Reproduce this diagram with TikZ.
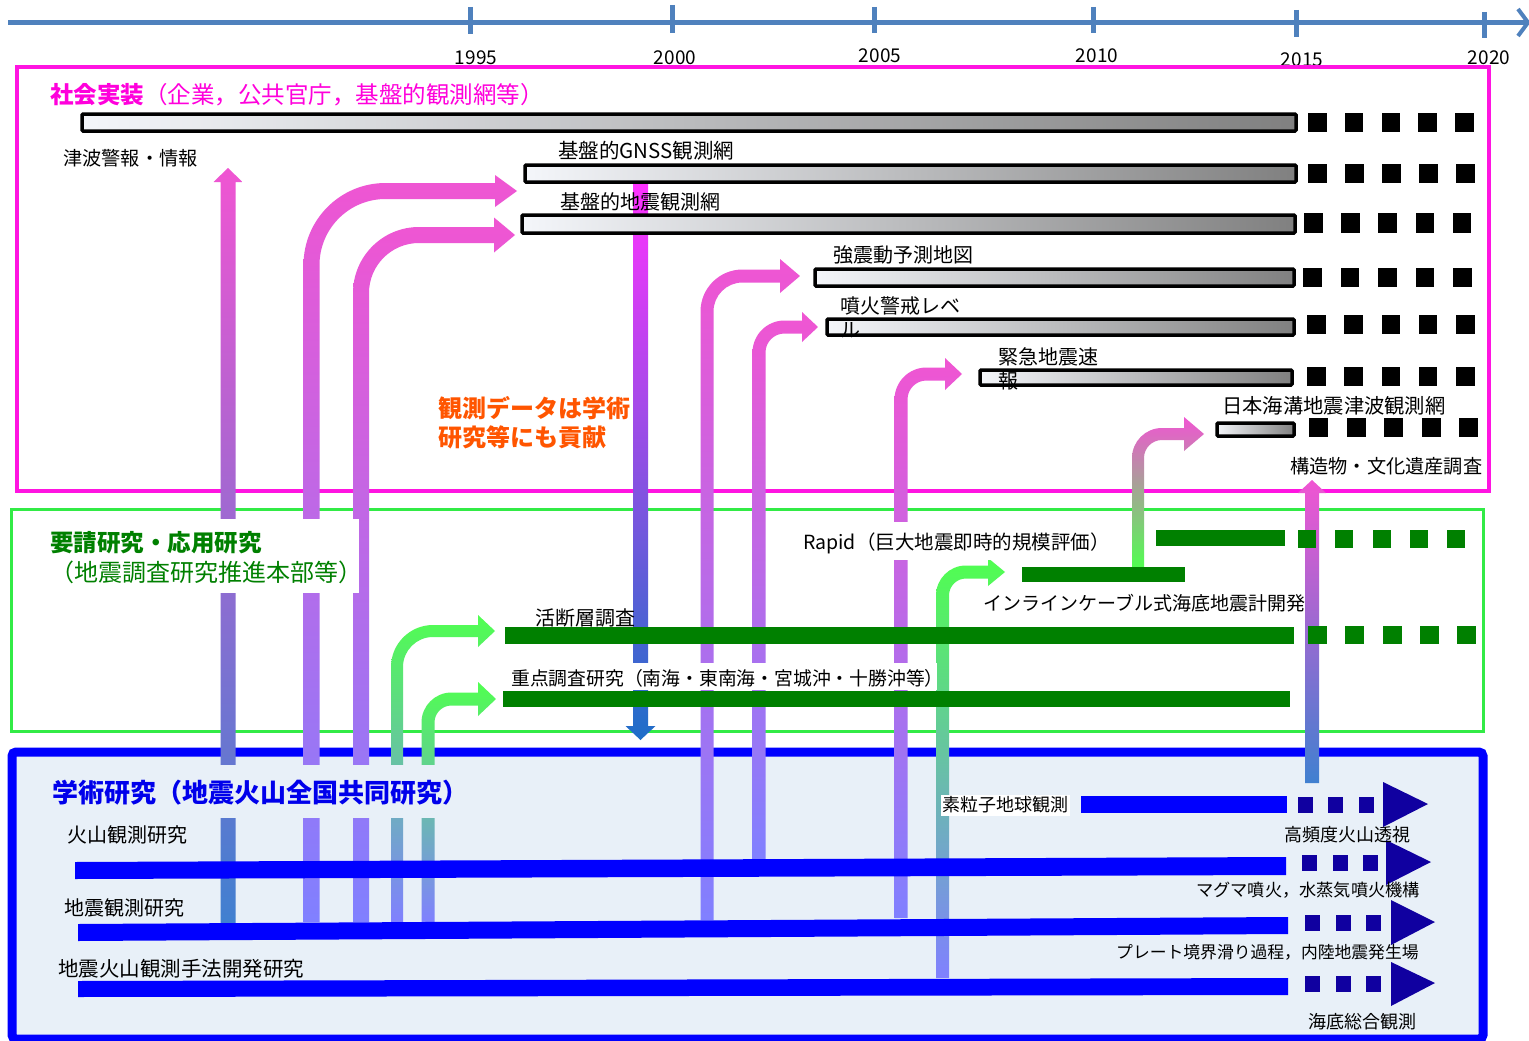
\documentclass[tikz,border=0pt]{standalone}
\usepackage{fontspec}
\setmainfont{Noto Sans CJK JP}
\definecolor{tl}{RGB}{79,129,189}
\definecolor{mag}{RGB}{255,20,225}
\definecolor{magtxt}{RGB}{255,0,220}
\definecolor{pinkA}{RGB}{240,85,210}
\definecolor{lav}{RGB}{128,128,255}
\definecolor{steel}{RGB}{64,128,208}
\definecolor{gfr}{RGB}{50,235,70}
\definecolor{gbar}{RGB}{0,128,0}
\definecolor{garr}{RGB}{80,255,80}
\definecolor{gpale}{RGB}{170,215,150}
\definecolor{bbox}{RGB}{232,240,248}
\definecolor{bblue}{RGB}{0,0,255}
\definecolor{btxt}{RGB}{0,0,235}
\definecolor{dblue}{RGB}{16,0,160}
\definecolor{orng}{RGB}{255,85,0}
\definecolor{glight}{RGB}{244,246,250}
\definecolor{gdark}{RGB}{128,128,128}
\definecolor{vmag}{RGB}{255,50,255}
\definecolor{vblue}{RGB}{30,110,200}
\newcommand{\fsz}[1]{\fontsize{#1pt}{#1pt}\selectfont}
% #1 cx, #2 y bottom, #3 y of horizontal, #4 head base x, #5 tip x, #6 half width, #7 outer radius, #8 head half height, #9 shading
\newcommand{\bentarrow}[9]{%
  \shade[#9] ({#1-#6},#2) -- ({#1-#6},{#3-#6+#7})
    arc[start angle=180,end angle=270,radius=#7]
    -- (#4,{#3-#6}) -- (#4,{#3-#8}) -- (#5,#3) -- (#4,{#3+#8}) -- (#4,{#3+#6})
    -- ({#1-#6+#7},{#3+#6})
    arc[start angle=270,end angle=180,radius={#7-2*#6}]
    -- ({#1+#6},#2) -- cycle;}
% #1 cx, #2 y start, #3 tip y, #4 head base y, #5 half width, #6 head half width, #7 shading
\newcommand{\straightarrow}[7]{%
  \shade[#7] ({#1-#5},#2) -- ({#1-#5},#4) -- ({#1-#6},#4) -- (#1,#3) -- ({#1+#6},#4) -- ({#1+#5},#4) -- ({#1+#5},#2) -- cycle;}
% #1 x0, #2 dx, #3 y0, #4 w, #5 h, #6 last index, #7 colour
\newcommand{\sqrow}[7]{\foreach \i in {0,...,#6}{\fill[#7] ({#1+\i*#2},#3) rectangle ++(#4,#5);}}
\begin{document}
\begin{tikzpicture}[x=1pt,y=-1pt,
  lb/.style={anchor=west,inner sep=0pt,font=\fsz{20}},
  yr/.style={inner sep=0pt,font=\fsz{19}},
  graybar/.style={draw=black,line width=3.5pt,left color=glight,right color=gdark,rounded corners=1pt}]
\useasboundingbox (0,0) rectangle (1529,1041);
\fill[white] (0,0) rectangle (1529,1041);

% ---------- timeline ----------
\draw[tl,line width=5pt] (8,22.5) -- (1526,22.5);
\draw[tl,line width=4pt] (1518,9) -- (1528,22.5) -- (1518,36);
\foreach \x/\a/\b in {470/7/34, 672.5/5/33, 874/7/33, 1093.5/7/33, 1296.5/10/37, 1484.5/12/38}
  \draw[tl,line width=5pt] (\x,\a) -- (\x,\b);
\node[yr] (y1995) at (476,58) {1995};
\node[yr] (y2000) at (675,58) {2000};
\node[yr] (y2005) at (880,56) {2005};
\node[yr] (y2010) at (1097,56) {2010};
\node[yr] (y2015) at (1302,60) {2015};
\node[yr] (y2020) at (1489,58) {2020};

% ---------- frames ----------
\filldraw[draw=bblue,fill=bbox,line width=9pt,rounded corners=4pt] (12,752) rectangle (1483,1039);
\draw[gfr,line width=3pt] (11,509) rectangle (1483,731);
\draw[mag,line width=3.5pt] (17,67) rectangle (1489,491);

% ---------- arrows ----------
\straightarrow{228}{923}{168}{182}{7.5}{14.5}{top color=pinkA,bottom color=steel}
\straightarrow{1312}{783}{480}{493}{7}{14}{top color=pinkA,bottom color=steel}
\straightarrow{640.5}{183}{740}{726}{7.5}{15}{top color=vmag,bottom color=vblue}
\bentarrow{311.5}{922}{191}{495}{517}{8}{82}{16}{top color=pinkA,bottom color=lav}
\bentarrow{361}{922}{235}{494}{515}{8}{66}{17.5}{top color=pinkA,bottom color=lav}
\bentarrow{707}{920}{276}{780}{800}{6.5}{42}{17}{top color=pinkA,bottom color=lav}
\bentarrow{759}{859}{327}{802}{818}{6.5}{32}{15}{top color=pinkA,bottom color=lav}
\bentarrow{901}{918}{374}{945}{962}{6.5}{32}{16}{top color=pinkA,bottom color=lav}
\bentarrow{1138}{568}{434}{1184}{1204}{6}{30}{17}{top color=pinkA,middle color=gpale,bottom color=garr}
\bentarrow{397}{922}{631}{478}{495}{6}{42}{16}{top color=garr,bottom color=lav}
\bentarrow{428}{922}{699}{478}{496}{6.5}{30}{17}{top color=garr,bottom color=lav}
\bentarrow{942.5}{978}{572}{988}{1005}{6.5}{30}{14}{top color=garr,bottom color=lav}

% ---------- label backgrounds ----------
\fill[white] (45,519) rectangle (359,593);
\fill[bbox] (40,765) rectangle (468,818);
\fill[white] (800,522) rectangle (1106,560);
\fill[white] (505,663) rectangle (937,690);
\fill[white] (941,795) rectangle (1070,816);

% ---------- gray bars (social implementation) ----------
\path[graybar] (82,114) rectangle (1296,131);
\path[graybar] (525,165) rectangle (1296,182);
\path[graybar] (522,215) rectangle (1295,233);
\path[graybar] (815,269) rectangle (1294,286);
\path[graybar] (827,319) rectangle (1294,335);
\path[graybar] (980,370) rectangle (1292,385);
\path[graybar] (1217,423) rectangle (1294,436);
\sqrow{1308}{36.8}{113}{18.5}{19}{4}{black}
\sqrow{1308}{37}{164}{18.5}{19}{4}{black}
\sqrow{1304}{37.2}{213}{18.5}{20}{4}{black}
\sqrow{1303}{37.5}{268}{18.5}{19}{4}{black}
\sqrow{1307}{37.3}{315}{18.5}{19}{4}{black}
\sqrow{1307}{37.3}{367}{18.5}{19}{4}{black}
\sqrow{1309}{37.5}{418}{19}{19}{4}{black}

% ---------- green bars ----------
\fill[gbar] (1156,530) rectangle (1285,546);
\sqrow{1298}{37.3}{530}{18}{18}{4}{gbar}
\fill[gbar] (1022,567) rectangle (1185,582);
\fill[gbar] (505,627) rectangle (1294,644);
\sqrow{1308}{37.3}{626}{19}{18}{4}{gbar}
\fill[gbar] (503,691) rectangle (1290,707);

% ---------- blue bars ----------
\fill[bblue] (1081,796) rectangle (1287,813);
\fill[bblue] (75,862) -- (1286,857) -- (1286,875) -- (75,879) -- cycle;
\fill[bblue] (78,924) -- (1288,917) -- (1288,934) -- (78,941) -- cycle;
\fill[bblue] (78,981) -- (1288,978) -- (1288,995) -- (78,997) -- cycle;
\sqrow{1298}{30.3}{797}{15}{16}{2}{dblue}
\sqrow{1302}{30.5}{855}{15}{16}{2}{dblue}
\sqrow{1305}{30.5}{915}{15}{16}{2}{dblue}
\sqrow{1305}{30.5}{976}{15}{16}{2}{dblue}
\fill[dblue] (1383,782) -- (1428,804) -- (1383,827) -- cycle;
\fill[dblue] (1386,840) -- (1431,862) -- (1386,885) -- cycle;
\fill[dblue] (1391,900) -- (1435,922) -- (1391,945) -- cycle;
\fill[dblue] (1391,962) -- (1435,983) -- (1391,1006) -- cycle;

% ---------- texts: social implementation ----------
\node[lb,font=\fsz{23.5},text=magtxt] (shakai) at (50,95) {\textbf{社会実装}（企業，公共官庁，基盤的観測網等）};
\node[lb,font=\fsz{19.2}] (tsunami) at (63,158) {津波警報・情報};
\node[lb,font=\fsz{20.5}] (gnss) at (558,151) {基盤的GNSS観測網};
\node[lb] (kiban) at (560,202) {基盤的地震観測網};
\node[lb] (kyoshin) at (833,255) {強震動予測地図};
\node[lb] (funkaA) at (840,306) {噴火警戒レベ};
\node[lb] (funkaB) at (840,330) {ル};
\node[lb] (kinkyuA) at (998,357) {緊急地震速};
\node[lb] (kinkyuB) at (998,381) {報};
\node[lb,font=\fsz{20.3}] (nihon) at (1222,406) {日本海溝地震津波観測網};
\node[lb,font=\fsz{19.2}] (kozo) at (1290,466) {構造物・文化遺産調査};
\node[lb,font=\fsz{24}\bfseries,text=orng] (kojiA) at (438,408) {観測データは学術};
\node[lb,font=\fsz{24}\bfseries,text=orng] (kojiB) at (438,437) {研究等にも貢献};

% ---------- texts: requested research ----------
\node[lb,font=\fsz{23.5}\bfseries,text=gbar] (yoseiA) at (50,543) {要請研究・応用研究};
\node[lb,font=\fsz{24},text=gbar] (yoseiB) at (50,572) {（地震調査研究推進本部等）};
\node[lb,font=\fsz{19.5}] (rapid) at (803,543) {Rapid（巨大地震即時的規模評価）};
\node[lb,font=\fsz{19}] (inline) at (983,603) {インラインケーブル式海底地震計開発};
\node[lb] (katsu) at (535,618) {活断層調査};
\node[lb,font=\fsz{18.8}] (juten) at (511,678) {重点調査研究（南海・東南海・宮城沖・十勝沖等）};

% ---------- texts: academic research ----------
\node[lb,font=\fsz{26}\bfseries,text=btxt] (gaku) at (52,793) {学術研究（地震火山全国共同研究）};
\node[lb] (kazan) at (67,835) {火山観測研究};
\node[lb] (jishin) at (64,908) {地震観測研究};
\node[lb,font=\fsz{20.5}] (shuho) at (58,969) {地震火山観測手法開発研究};
\node[lb,font=\fsz{18}] (soryushi) at (942,805) {素粒子地球観測};
\node[lb,font=\fsz{18}] (kohindo) at (1284,835) {高頻度火山透視};
\node[lb,font=\fsz{17.2}] (magma) at (1196,890) {マグマ噴火，水蒸気噴火機構};
\node[lb,font=\fsz{16.8}] (plate) at (1116,952) {プレート境界滑り過程，内陸地震発生場};
\node[lb,font=\fsz{18}] (kaitei) at (1308,1022) {海底総合観測};
\end{tikzpicture}
\end{document}
